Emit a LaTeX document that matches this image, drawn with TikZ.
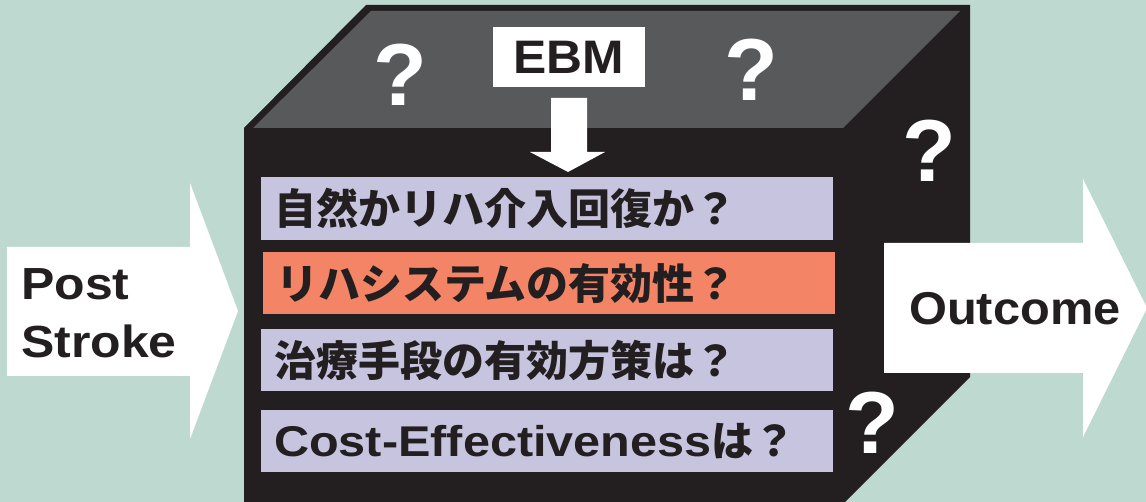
\documentclass[tikz,border=0pt]{standalone}
\usepackage{fontspec}
\newfontfamily\jp{Noto Sans CJK JP}
\newfontfamily\hvA{Liberation Sans}[FakeStretch=1.06]
\newfontfamily\hvB{Liberation Sans}[FakeStretch=1.13]
\newfontfamily\hvC{Liberation Sans}[FakeStretch=1.11]
\newfontfamily\hvQ{Liberation Sans}
\definecolor{bg}{HTML}{BED9CF}
\definecolor{cubeblack}{HTML}{231F20}
\definecolor{topgray}{HTML}{58595B}
\definecolor{lav}{HTML}{C7C4E0}
\definecolor{salmon}{HTML}{F48466}
\definecolor{ink}{HTML}{231F20}
\tikzset{
  rowbox/.style={anchor=north west, minimum width=572pt, minimum height=63pt,
    text width=546pt, align=left, inner xsep=13pt, inner ysep=0pt, text=ink,
    font=\jp\bfseries\fontsize{42pt}{42pt}\selectfont},
  qmark/.style={text=white, inner sep=0pt, font=\hvQ\bfseries\fontsize{88pt}{88pt}\selectfont},
  biglbl/.style={text=ink, inner sep=0pt, font=\hvA\bfseries\fontsize{46pt}{58pt}\selectfont},
  blockarrow/.style={fill=white}
}
\begin{document}
\begin{tikzpicture}[x=1pt,y=-1pt]
\useasboundingbox (0,0) rectangle (1146,502);
\fill[bg] (0,0) rectangle (1146,502);
% cube
\fill[cubeblack] (244,128) -- (366,5) -- (970,5) -- (970,377) -- (845,502) -- (244,502) -- cycle;
\fill[topgray] (253,128) -- (371,11) -- (960,11) -- (843,128) -- cycle;
% left arrow
\fill[blockarrow] (7,247) -- (190,247) -- (190,183) -- (238,311) -- (190,439) -- (190,376) -- (7,376) -- cycle;
\node[biglbl, anchor=north west, align=left, font=\hvC\bfseries\fontsize{45pt}{58pt}\selectfont] (post) at (21,268) {Post\\Stroke};
% right arrow
\fill[blockarrow] (884,243) -- (1083,243) -- (1083,179) -- (1147,308) -- (1083,437) -- (1083,373) -- (884,373) -- cycle;
\node[biglbl, anchor=base west] (outcome) at (909,325) {Outcome};
% EBM
\node[fill=white, minimum width=152pt, minimum height=60pt, inner sep=0pt, text=ink,
  font=\hvA\bfseries\fontsize{47pt}{47pt}\selectfont] (ebm) at (569,57) {EBM};
\coordinate (da) at (568,172);
\fill[blockarrow] (551,98) -- (587,98) -- (587,152) -- (605,152) -- (da) -- (530,152) -- (551,152) -- cycle;
% rows
\node[rowbox, fill=lav] (r1) at (261,177) {自然かリハ介入回復か？};
\node[rowbox, fill=salmon, minimum width=571pt, minimum height=62pt] (r2) at (263,252) {リハシステムの有効性？};
\node[rowbox, fill=lav, minimum height=62pt] (r3) at (261,329) {治療手段の有効方策は？};
\node[rowbox, fill=lav, minimum height=62pt] (r4) at (261,410) {{\hvB\fontsize{43pt}{43pt}\selectfont Cost-Effectiveness}は？};
% question marks
\node[qmark] (q1) at (400,75) {?};
\node[qmark] (q2) at (751,70) {?};
\node[qmark] (q3) at (929,151) {?};
\node[qmark] (q4) at (872,423) {?};
\end{tikzpicture}
\end{document}
